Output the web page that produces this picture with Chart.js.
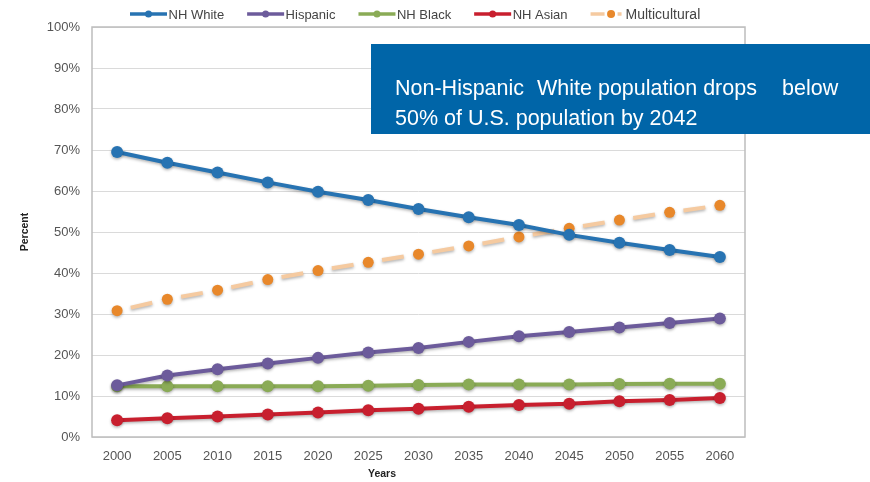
<!DOCTYPE html>
<html>
<head>
<meta charset="utf-8">
<script src="https://cdn.jsdelivr.net/npm/chart.js@4.4.1/dist/chart.umd.min.js"></script>
<style>
  html, body { margin: 0; padding: 0; background: #fff; }
</style>
</head>
<body>
<canvas id="grafica" width="870" height="482"></canvas>
<script>
// ---- datos ----
const years = ['2000', '2005', '2010', '2015', '2020', '2025', '2030', '2035', '2040', '2045', '2050', '2055', '2060'];
const nhWhite       = [69.5, 66.9, 64.5, 62.1, 59.8, 57.8, 55.6, 53.6, 51.7, 49.3, 47.4, 45.6, 43.9];
const hispanic      = [12.6, 15.0, 16.5, 17.9, 19.3, 20.6, 21.7, 23.2, 24.6, 25.6, 26.7, 27.8, 28.9];
const nhBlack       = [12.4, 12.4, 12.4, 12.4, 12.4, 12.5, 12.7, 12.8, 12.8, 12.8, 12.9, 13.0, 13.0];
const nhAsian       = [4.1, 4.6, 5.0, 5.5, 6.0, 6.5, 6.9, 7.4, 7.8, 8.1, 8.7, 9.0, 9.5];
const multicultural = [30.8, 33.6, 35.8, 38.4, 40.6, 42.6, 44.6, 46.6, 48.8, 50.9, 52.9, 54.8, 56.5];
const seriesNames = ['NH White', 'Hispanic', 'NH Black', 'NH Asian', 'Multicultural'];
const noteLine1 = ['Non-Hispanic', 'White population drops', 'below'];
const noteLine2 = '50% of U.S. population by 2042';

const FONT = '"Liberation Sans", Arial, sans-serif';
const colores = {
  white: '#2773b2',
  hisp:  '#6c5b9b',
  black: '#8aab56',
  asian: '#c81f2e',
  multiLine: '#f5caa0',
  multiDot:  '#e8882b'
};

function serie(label, data, color) {
  return {
    label, data,
    borderColor: color,
    backgroundColor: color,
    pointBackgroundColor: color,
    pointBorderColor: color,
    pointBorderWidth: 0,
    borderWidth: 4,
    pointRadius: 6,
    pointHoverRadius: 6,
    tension: 0
  };
}

const multi = serie(seriesNames[4], multicultural, colores.multiLine);
multi.pointBackgroundColor = colores.multiDot;
multi.pointBorderColor = colores.multiDot;
multi.pointRadius = 5.5;
// un trazo por tramo para que el guion quede centrado entre puntos
multi.borderDash = [0, 14, 22, 100];
multi.segment = { borderDashOffset: c => (c.p0DataIndex % 2) * 0.01 };

// ---- plugins ----
const sombra = {
  id: 'sombra',
  beforeDatasetDraw(chart) {
    const ctx = chart.ctx;
    ctx.save();
    ctx.shadowColor = 'rgba(0,0,0,0.3)';
    ctx.shadowBlur = 3;
    ctx.shadowOffsetY = 1.5;
  },
  afterDatasetDraw(chart) { chart.ctx.restore(); }
};

const marco = {
  id: 'marco',
  beforeDatasetsDraw(chart) {
    const { ctx, chartArea: a } = chart;
    ctx.save();
    ctx.strokeStyle = '#bdbdbd';
    ctx.lineWidth = 1.5;
    ctx.strokeRect(a.left, a.top, a.right - a.left, a.bottom - a.top);
    ctx.restore();
  }
};

const textos = {
  id: 'textos',
  afterDraw(chart) {
    const ctx = chart.ctx;
    ctx.save();
    // titulos de ejes
    ctx.fillStyle = '#222';
    ctx.font = 'bold 10.5px ' + FONT;
    ctx.textAlign = 'center';
    ctx.textBaseline = 'middle';
    ctx.fillText('Years', 382, 474);
    ctx.translate(25, 232);
    ctx.rotate(-Math.PI / 2);
    ctx.fillText('Percent', 0, 0);
    ctx.restore();

    // leyenda
    ctx.save();
    const items = [
      [seriesNames[0], colores.white],
      [seriesNames[1], colores.hisp],
      [seriesNames[2], colores.black],
      [seriesNames[3], colores.asian]
    ];
    let x = 130;
    const y = 14;
    ctx.textBaseline = 'middle';
    ctx.textAlign = 'left';
    for (const [name, col] of items) {
      ctx.strokeStyle = col;
      ctx.lineWidth = 3.5;
      ctx.beginPath(); ctx.moveTo(x, y); ctx.lineTo(x + 37, y); ctx.stroke();
      ctx.fillStyle = col;
      ctx.beginPath(); ctx.arc(x + 18.5, y, 3.5, 0, Math.PI * 2); ctx.fill();
      ctx.fillStyle = '#444';
      ctx.font = '13px ' + FONT;
      ctx.fillText(name, x + 38.5, y + 1);
      x += 38.5 + ctx.measureText(name).width + 23;
    }
    ctx.strokeStyle = colores.multiLine;
    ctx.lineWidth = 3.5;
    ctx.beginPath(); ctx.moveTo(x, y); ctx.lineTo(x + 14, y); ctx.stroke();
    ctx.beginPath(); ctx.moveTo(x + 27, y); ctx.lineTo(x + 31, y); ctx.stroke();
    ctx.fillStyle = colores.multiDot;
    ctx.beginPath(); ctx.arc(x + 20.5, y, 4, 0, Math.PI * 2); ctx.fill();
    ctx.fillStyle = '#444';
    ctx.font = '14px ' + FONT;
    ctx.fillText(seriesNames[4], x + 35, y + 1);
    ctx.restore();

    // recuadro azul
    ctx.save();
    ctx.fillStyle = '#0065a8';
    ctx.fillRect(371, 44, 499, 90);
    ctx.fillStyle = '#fff';
    ctx.font = '21.5px ' + FONT;
    ctx.textBaseline = 'alphabetic';
    ctx.fillText(noteLine1[0], 395, 95);
    ctx.fillText(noteLine1[1], 537, 95);
    ctx.fillText(noteLine1[2], 782, 95);
    ctx.fillText(noteLine2, 395, 125);
    ctx.restore();
  }
};

// ---- grafica ----
new Chart(document.getElementById('grafica'), {
  type: 'line',
  data: {
    labels: years,
    datasets: [
      serie(seriesNames[0], nhWhite, colores.white),
      serie(seriesNames[1], hispanic, colores.hisp),
      serie(seriesNames[2], nhBlack, colores.black),
      serie(seriesNames[3], nhAsian, colores.asian),
      multi
    ]
  },
  options: {
    responsive: false,
    devicePixelRatio: 1,
    animation: false,
    layout: { padding: { top: 27, right: 125, bottom: 0, left: 0 } },
    plugins: {
      legend: { display: false },
      tooltip: { enabled: false }
    },
    scales: {
      x: {
        offset: true,
        grid: { display: false, drawTicks: false },
        border: { display: false },
        ticks: { color: '#555', font: { family: FONT, size: 13 }, padding: 12, maxRotation: 0, autoSkip: false },
        afterFit: s => { s.height = 45; }
      },
      y: {
        min: 0,
        max: 100,
        grid: { color: '#dadada', drawTicks: false },
        border: { display: false },
        ticks: {
          stepSize: 10,
          color: '#555',
          font: { family: FONT, size: 13 },
          padding: 12,
          callback: v => v + '%'
        },
        afterFit: s => { s.width = 92; }
      }
    }
  },
  plugins: [marco, sombra, textos]
});
</script>
</body>
</html>
